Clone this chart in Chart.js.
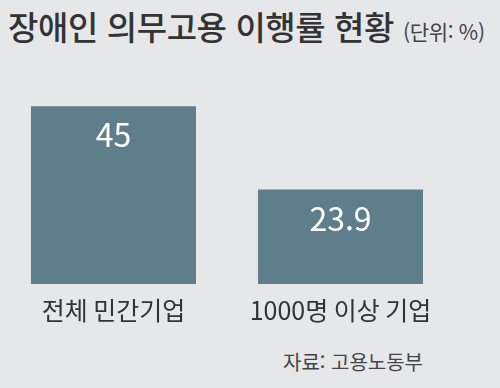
<!DOCTYPE html>
<html lang="ko">
<head>
  <meta charset="UTF-8" />
  <title>장애인 의무고용 이행률 현황</title>
  <script src="https://cdn.jsdelivr.net/npm/chart.js"></script>
  <style>
    html, body { margin: 0; padding: 0; }
    body {
      width: 500px; height: 388px; background: #e6e7e9; position: relative; overflow: hidden;
      font-family: "Noto Sans CJK KR", "Noto Sans", sans-serif; color: #333;
    }
    #title { position: absolute; left: 8px; top: 2px; font-size: 33px; font-weight: 500; letter-spacing: -0.4px; white-space: nowrap; }
    #title span { font-size: 21px; font-weight: 400; letter-spacing: -0.3px; color: #444; }
    #wrap { position: absolute; left: 0; top: 0; width: 500px; height: 328px; }
    #source { position: absolute; left: 283px; top: 347px; font-size: 20px; color: #444; }
  </style>
</head>
<body>
  <div id="title">장애인 의무고용 이행률 현황 <span>(단위: %)</span></div>
  <div id="wrap"><canvas id="chart"></canvas></div>
  <div id="source">자료: 고용노동부</div>

  <script>
    const categories = ["전체 민간기업", "1000명 이상 기업"];
    const rates = [45, 23.9];

    // value labels inside the top of each bar
    const valueLabels = {
      id: "valueLabels",
      afterDatasetsDraw(chart) {
        const ctx = chart.ctx;
        const meta = chart.getDatasetMeta(0);
        ctx.save();
        ctx.fillStyle = "#fff";
        ctx.font = '32px "Noto Sans CJK KR"';
        ctx.textAlign = "center";
        ctx.textBaseline = "middle";
        meta.data.forEach((bar, i) => {
          ctx.fillText(String(rates[i]), bar.x, bar.y + 29);
        });
        ctx.restore();
      }
    };

    new Chart(document.getElementById("chart"), {
      type: "bar",
      data: {
        labels: categories,
        datasets: [{
          data: rates,
          backgroundColor: "#5e7e8c",
          barPercentage: 1,
          categoryPercentage: 0.727
        }]
      },
      options: {
        responsive: true,
        maintainAspectRatio: false,
        animation: false,
        layout: { padding: { left: 0, right: 46, top: 47, bottom: 0 } },
        plugins: { legend: { display: false }, tooltip: { enabled: false } },
        scales: {
          x: {
            grid: { display: false },
            border: { display: false },
            ticks: { color: "#333", font: { family: "Noto Sans CJK KR", size: 25 }, padding: 3 }
          },
          y: { display: false, min: 0, max: 60 }
        }
      },
      plugins: [valueLabels]
    });
  </script>
</body>
</html>
